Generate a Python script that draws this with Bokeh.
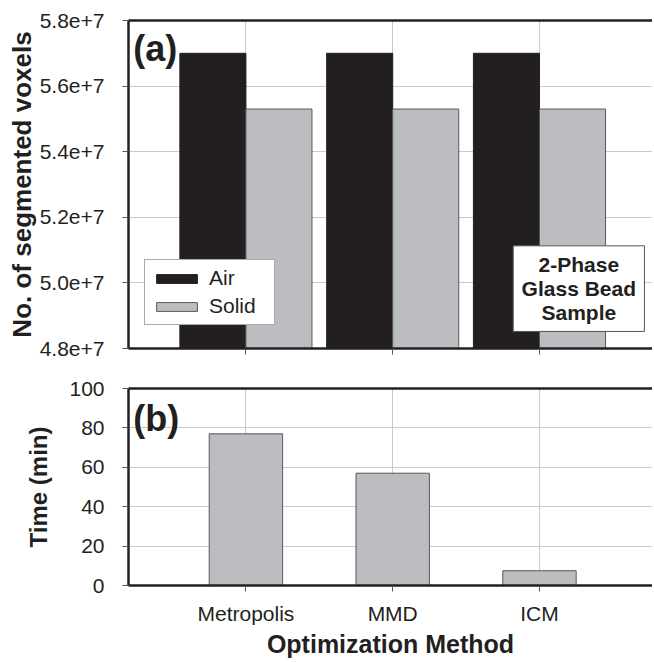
from bokeh.plotting import figure
from bokeh.models import (Range1d, FixedTicker, Legend, LegendItem, Label, BoxAnnotation,
                          LinearAxis)
from bokeh.layouts import column
from bokeh.embed import file_html
from bokeh.resources import INLINE

# ---- data ----
methods = ["Metropolis", "MMD", "ICM"]
air_voxels = [5.70e7, 5.70e7, 5.70e7]
solid_voxels = [5.53e7, 5.53e7, 5.53e7]
time_min = [77, 57, 7.5]
voxel_ticks = [48000000, 50000000, 52000000, 54000000, 56000000, 58000000]
voxel_tick_labels = ["4.8e+7", "5.0e+7", "5.2e+7", "5.4e+7", "5.6e+7", "5.8e+7"]
time_ticks = [0, 20, 40, 60, 80, 100]
series_names = ["Air", "Solid"]
note_lines = ["2-Phase", "Glass Bead", "Sample"]

FONT = "Liberation Sans"
INK = "#231f20"
GRID = "#c9c9c9"
SOLID_FILL = "#bcbdc0"
SOLID_LINE = "#58595b"

pos = list(range(1, len(methods) + 1))
xr = Range1d(0.2, 3.77)


def style(p, yticks, ylabel, standoff, title_size):
    """Style the figure; returns (bottom x axis, left y axis)."""
    xb = p.below[0]
    yl = p.left[0]
    p.outline_line_color = None
    p.background_fill_color = "white"
    p.border_fill_color = "white"
    for ax in (xb, yl):
        ax.axis_line_color = INK
        ax.axis_line_width = 2.5
        ax.major_tick_line_color = "#555555"
        ax.major_tick_line_width = 1
        ax.major_tick_out = 6
        ax.major_tick_in = 0
        ax.minor_tick_line_color = None
        ax.major_label_text_font = FONT
        ax.major_label_text_font_size = "21px"
        ax.major_label_text_color = INK
        ax.axis_label_text_font = FONT
        ax.axis_label_text_font_style = "bold"
        ax.axis_label_text_color = INK
    xb.ticker = FixedTicker(ticks=pos)
    yl.ticker = FixedTicker(ticks=yticks)
    yl.major_label_standoff = 18
    yl.axis_label = ylabel
    yl.axis_label_text_font_size = title_size
    yl.axis_label_standoff = standoff
    p.xgrid.grid_line_color = GRID
    p.ygrid.grid_line_color = GRID
    p.xgrid.grid_line_width = 1
    p.ygrid.grid_line_width = 1
    # thick top border of the plot area (an axis line without ticks or labels)
    top = LinearAxis(ticker=FixedTicker(ticks=[]), axis_line_color=INK, axis_line_width=2.5,
                     major_tick_line_color=None, minor_tick_line_color=None,
                     major_label_text_color=None)
    p.add_layout(top, "above")
    return xb, yl


# ---- panel (a) ----
p1 = figure(width=652, height=368, x_range=xr, y_range=Range1d(4.8e7, 5.8e7),
            output_backend="svg", toolbar_location=None,
            min_border_left=128, min_border_right=0, min_border_top=20, min_border_bottom=20)
xb1, yl1 = style(p1, voxel_ticks, "No. of segmented voxels", 0, "26px")
yl1.major_label_overrides = {t: l for t, l in zip(voxel_ticks, voxel_tick_labels)}
xb1.major_label_text_color = None
xb1.major_label_text_font_size = "2px"
xb1.major_label_standoff = 0

r_air = p1.vbar(x=[c - 0.225 for c in pos], top=air_voxels, bottom=0, width=0.45,
                fill_color=INK, line_color=INK, line_width=1)
r_solid = p1.vbar(x=[c + 0.225 for c in pos], top=solid_voxels, bottom=0, width=0.45,
                  fill_color=SOLID_FILL, line_color=SOLID_LINE, line_width=1)

legend = Legend(items=[LegendItem(label=series_names[0], renderers=[r_air]),
                       LegendItem(label=series_names[1], renderers=[r_solid])],
                location=(16, 23), label_text_font=FONT, label_text_font_size="21px",
                label_text_color=INK, glyph_width=51, glyph_height=11, label_standoff=7,
                label_width=59, padding=6, spacing=4, margin=0, border_line_color="#555555",
                border_line_width=1, background_fill_color="white", background_fill_alpha=1)
p1.add_layout(legend)

p1.add_layout(Label(x=0.232, y=5.777e7, text="(a)", text_font=FONT, text_font_size="36px",
                    text_font_style="bold", text_color=INK, text_baseline="top"))

p1.add_layout(BoxAnnotation(left=2.821, right=3.715, bottom=4.852e7, top=5.113e7,
                            fill_color="white", fill_alpha=1, line_color="#555555",
                            line_width=1, line_alpha=1))
for txt, yy in zip(note_lines, [5.0553e7, 4.9824e7, 4.9094e7]):
    p1.add_layout(Label(x=3.268, y=yy, text=txt, text_font=FONT, text_font_size="21px",
                        text_font_style="bold", text_color=INK, text_align="center",
                        text_baseline="middle"))

# ---- panel (b) ----
p2 = figure(width=652, height=294, x_range=xr, y_range=Range1d(0, 100),
            output_backend="svg", toolbar_location=None,
            min_border_left=128, min_border_right=0, min_border_top=20, min_border_bottom=77)
xb2, yl2 = style(p2, time_ticks, "Time (min)", 14, "24px")
xb2.major_label_overrides = {c: m for c, m in zip(pos, methods)}
xb2.major_label_standoff = 10
xb2.axis_label = "Optimization Method"
xb2.axis_label_text_font_size = "25px"
xb2.axis_label_standoff = 2

p2.vbar(x=pos, top=time_min, bottom=0, width=0.5,
        fill_color=SOLID_FILL, line_color=SOLID_LINE, line_width=1)
p2.add_layout(Label(x=0.232, y=95, text="(b)", text_font=FONT, text_font_size="36px",
                    text_font_style="bold", text_color=INK, text_baseline="top"))

layout = column(p1, p2, spacing=0)
open("out.html", "w").write(file_html(layout, INLINE))
